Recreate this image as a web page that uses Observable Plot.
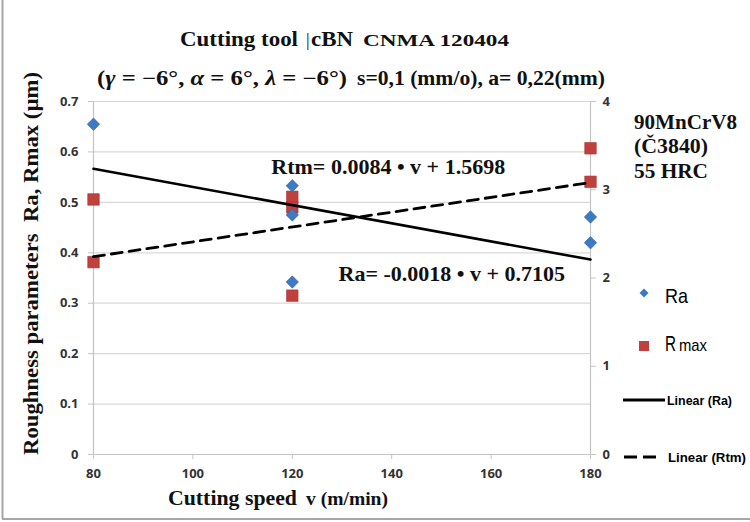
<!DOCTYPE html>
<html>
<head>
<meta charset="utf-8">
<script src="https://cdn.jsdelivr.net/npm/d3@7"></script>
<script src="https://cdn.jsdelivr.net/npm/@observablehq/plot@0.6"></script>
<style>
  html, body { margin: 0; padding: 0; background: #ffffff; }
  #chart { position: relative; width: 750px; height: 522px; }
</style>
</head>
<body>
<div id="chart"></div>
<script>
// ---- data ----
const speedRa = [80, 120, 120, 120, 180, 180];
const ra = [0.655, 0.533, 0.475, 0.342, 0.471, 0.420];
const speedRmax = [80, 80, 120, 120, 120, 180, 180];
const rmax = [2.89, 2.18, 2.92, 2.80, 1.80, 3.47, 3.09];
const xTicks = [80, 100, 120, 140, 160, 180];
const leftTicks = [0, 0.1, 0.2, 0.3, 0.4, 0.5, 0.6, 0.7];
const rightTicks = [0, 1, 2, 3, 4];
const trendRa = {slope: -0.0018, intercept: 0.7105};   // left axis
const trendRtm = {slope: 0.0084, intercept: 1.5698};   // right axis
const eqText = ["Rtm= 0.0084 \u2022 v + 1.5698", "Ra= -0.0018 \u2022 v + 0.7105"];
const eqX = [139.3, 152.1];
const eqY = [0.571, 0.359];

// right axis (0..4) mapped onto left axis (0..0.7)
const k = 0.7 / 4;
const xDomain = [80, 180];

const raData = speedRa.map((v, i) => ({v, val: ra[i]}));
const rmaxData = speedRmax.map((v, i) => ({v, val: rmax[i] * k}));
const raLine = xDomain.map(v => ({v, val: trendRa.slope * v + trendRa.intercept}));
const rtmLine = xDomain.map(v => ({v, val: (trendRtm.slope * v + trendRtm.intercept) * k}));
const eqData = eqText.map((t, i) => ({t, v: eqX[i], val: eqY[i]}));

const axisGray = "#c4c4c4";
const serif = "'Liberation Serif', 'Times New Roman', serif";

const plot = Plot.plot({
  width: 750,
  height: 522,
  marginTop: 101,
  marginBottom: 68,
  marginLeft: 93,
  marginRight: 160,
  x: {domain: xDomain},
  y: {domain: [0, 0.7]},
  style: {fontFamily: "'Open Sans', sans-serif", fontSize: "13px", fontWeight: 700, color: "#333", background: "transparent", overflow: "visible"},
  marks: [
    Plot.gridY(leftTicks, {stroke: "#d9d9d9", strokeOpacity: 1, strokeWidth: 1.2}),
    Plot.ruleX(xDomain, {stroke: axisGray, strokeWidth: 1.2}),
    Plot.ruleY([0], {stroke: axisGray, strokeWidth: 1.2}),
    Plot.axisY(leftTicks, {anchor: "left", tickSize: 5, tickPadding: 10, stroke: axisGray, fill: "#333",
      tickFormat: d => d === 0 ? "0" : d.toFixed(1), label: null}),
    Plot.axisY(rightTicks.map(t => t * k), {anchor: "right", tickSize: 5, tickPadding: 7, stroke: axisGray, fill: "#333",
      tickFormat: d => String(Math.round(d / k)), label: null}),
    Plot.axisX(xTicks, {tickSize: 5, tickPadding: 9, stroke: axisGray, fill: "#333", label: null}),
    Plot.dot(rmaxData, {x: "v", y: "val", symbol: "square", r: 6.5, fill: "#c0403d", stroke: "#a53431", strokeWidth: 0.6}),
    Plot.dot(raData, {x: "v", y: "val", symbol: "diamond2", r: 5.6, fill: "#3e7ac4", stroke: "#2f65aa", strokeWidth: 0.6}),
    Plot.line(raLine, {x: "v", y: "val", stroke: "#000", strokeWidth: 2.6}),
    Plot.line(rtmLine, {x: "v", y: "val", stroke: "#000", strokeWidth: 2.8, strokeDasharray: "11,7"}),
    Plot.text(eqData, {x: "v", y: "val", text: "t", fontFamily: serif, fontWeight: "bold", fontSize: 22, fill: "#111"})
  ]
});

document.getElementById("chart").appendChild(plot);

// ---- annotations: titles, axis labels, legend (real SVG text) ----
const svg = d3.select(plot);
const g = svg.append("g").attr("text-anchor", "start");

function txt(x, y, s, opts = {}) {
  const t = g.append("text")
    .attr("x", x).attr("y", y)
    .attr("text-anchor", "start")
    .attr("font-family", opts.family || serif)
    .attr("font-size", opts.size || 20)
    .attr("font-weight", opts.weight || "bold")
    .attr("fill", opts.fill || "#111")
    .text(s);
  if (opts.len) t.attr("textLength", opts.len).attr("lengthAdjust", "spacingAndGlyphs");
  if (opts.transform) t.attr("transform", opts.transform);
  return t;
}

// frame lines
g.append("line").attr("x1", 2.5).attr("x2", 2.5).attr("y1", 0).attr("y2", 519).attr("stroke", "#a6a6a6").attr("stroke-width", 2);
g.append("line").attr("x1", 2).attr("x2", 750).attr("y1", 519).attr("y2", 519).attr("stroke", "#a6a6a6").attr("stroke-width", 2);

// title line 1
txt(180, 46, "Cutting tool", {size: 20, len: 118});
txt(306, 46, "|", {size: 18, weight: "normal"});
txt(311, 46, "cBN", {size: 20, len: 42});
txt(363, 46, "CNMA 120404", {size: 17, len: 146});

// title line 2
const l2 = g.append("text").attr("x", 97).attr("y", 85).attr("text-anchor", "start")
  .attr("font-family", serif).attr("font-size", 20).attr("fill", "#111")
  .attr("textLength", 250).attr("lengthAdjust", "spacingAndGlyphs");
l2.append("tspan").text("(");
l2.append("tspan").attr("font-style", "italic").text("\u03B3");
l2.append("tspan").text(" = \u22126\u00B0, ");
l2.append("tspan").attr("font-style", "italic").text("\u03B1");
l2.append("tspan").text(" = 6\u00B0, ");
l2.append("tspan").attr("font-style", "italic").text("\u03BB");
l2.append("tspan").text(" = \u22126\u00B0)");
txt(357, 85, "s=0,1 (mm/o), a= 0,22(mm)", {size: 20, len: 248});

// y label
txt(0, 0, "Roughness parameters  Ra, Rmax (\u00B5m)", {size: 21, len: 383, transform: "translate(38,455) rotate(-90)"});

// x label
txt(168, 505, "Cutting speed", {size: 20, len: 129});
txt(306, 505, "v (m/min)", {size: 19, len: 82});

// material text
txt(634, 129, "90MnCrV8", {size: 20, len: 103});
txt(634, 153, "(\u010C3840)", {size: 20, len: 74});
txt(634, 178, "55 HRC", {size: 20, len: 74});

// legend
const sans = "'Liberation Sans', Arial, sans-serif";
g.append("path").attr("d", "M644,288.5 L648.5,293 L644,297.5 L639.5,293 Z").attr("fill", "#3e7ac4");
txt(665, 303, "Ra", {family: sans, size: 21, weight: "normal", len: 23, fill: "#000"});
g.append("rect").attr("x", 639).attr("y", 341).attr("width", 10).attr("height", 10).attr("fill", "#c0403d");
txt(665, 351, "R", {family: sans, size: 22, weight: "normal", len: 11, fill: "#000"});
txt(679, 351, "max", {family: sans, size: 17, weight: "normal", len: 28, fill: "#000"});

g.append("line").attr("x1", 623).attr("x2", 665).attr("y1", 400).attr("y2", 400).attr("stroke", "#000").attr("stroke-width", 3);
txt(667, 405, "Linear (Ra)", {family: sans, size: 13, len: 65, fill: "#000"});
g.append("line").attr("x1", 624).attr("x2", 656).attr("y1", 457).attr("y2", 457).attr("stroke", "#000").attr("stroke-width", 3).attr("stroke-dasharray", "13,6");
txt(668, 462, "Linear (Rtm)", {family: sans, size: 13, len: 78, fill: "#000"});
</script>
</body>
</html>
